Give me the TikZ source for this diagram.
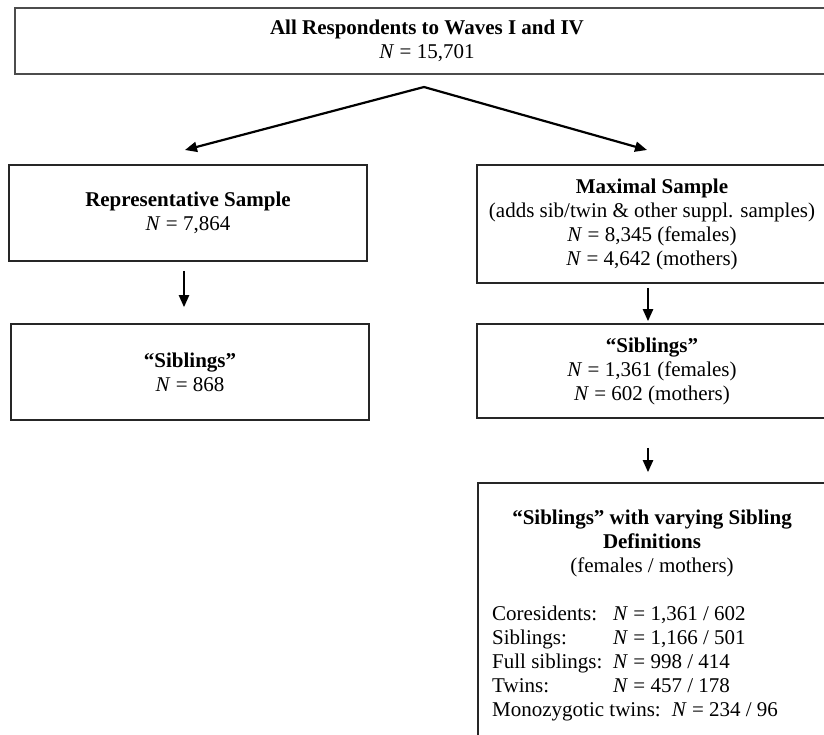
\documentclass[tikz,border=0pt]{standalone}
\usepackage{fontspec}
\setmainfont{Liberation Serif}
\usetikzlibrary{arrows.meta,calc}
\begin{document}
\fontsize{21pt}{24pt}\selectfont
\begin{tikzpicture}[x=1pt,y=-1pt,
  box/.style={draw=black!85,line width=1.6pt,rectangle,inner sep=0pt,align=center,
    font=\fontsize{21pt}{24pt}\selectfont},
  topbox/.style={box,draw=black!70,line width=2.4pt},
  txt/.style={inner sep=0pt,font=\fontsize{21pt}{24pt}\selectfont},
  arr/.style={line width=2.2pt,-{Triangle[length=12pt,width=10pt]}}]
\useasboundingbox[fill=white] (0,0) rectangle (824,735);

\node[topbox,minimum width=824pt,minimum height=66pt] (top) at (427,41)
  {\textbf{All Respondents to Waves I and IV}\\\textit{N} = 15,701};

\node[box,minimum width=358pt,minimum height=96pt] (rep) at (188,213)
  {\textbf{Representative Sample}\\\textit{N} = 7,864};
\node[box,minimum width=358pt,minimum height=96pt] (sibL) at (190,372)
  {\textbf{“Siblings”}\\\textit{N} = 868};

\node[box,minimum width=350pt,minimum height=118pt] (max) at (652,224)
  {\textbf{Maximal Sample}\\(adds sib/twin \& other suppl. samples)\\\textit{N} = 8,345 (females)\\\textit{N} = 4,642 (mothers)};
\node[box,minimum width=350pt,minimum height=94pt] (sibR) at (652,371)
  {\textbf{“Siblings”}\\\textit{N} = 1,361 (females)\\\textit{N} = 602 (mothers)};

\node[box,minimum width=349pt,minimum height=307pt] (bot) at (652.5,636.5) {};
\node[txt,align=center,anchor=north] (bothead) at (652,510)
  {\textbf{“Siblings” with varying Sibling}\\\textbf{Definitions}\\(females / mothers)};
\node[txt,align=left,anchor=north west] (botlist) at (492,606)
  {\makebox[121pt][l]{Coresidents:}\textit{N} = 1,361 / 602\\
   \makebox[121pt][l]{Siblings:}\textit{N} = 1,166 / 501\\
   \makebox[121pt][l]{Full siblings:}\textit{N} = 998 / 414\\
   \makebox[121pt][l]{Twins:}\textit{N} = 457 / 178\\
   Monozygotic twins:\hspace{11pt}\textit{N} = 234 / 96};

\coordinate (apex) at (424,87);
\coordinate (lend) at (185,150);
\coordinate (rend) at (647,150);
\draw[arr] (apex) -- (lend);
\draw[arr] (apex) -- (rend);

\draw[arr] ($(rep.south)+(-4,9)$) -- ($(sibL.north)+(-6,-16)$);
\draw[arr] ($(max.south)+(-4,4)$) -- ($(sibR.north)+(-4,-2)$);
\draw[arr] ($(sibR.south)+(-4,29)$) -- ($(bot.north)+(-4.5,-10)$);
\end{tikzpicture}
\end{document}
